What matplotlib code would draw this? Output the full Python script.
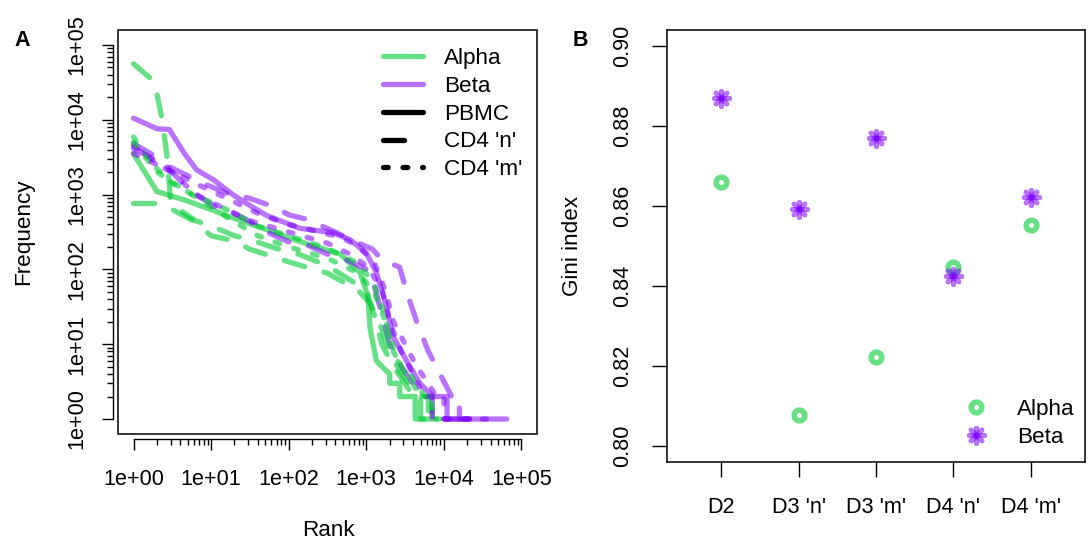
import matplotlib
matplotlib.use("Agg")
import matplotlib.pyplot as plt
from matplotlib.lines import Line2D
from matplotlib.markers import MarkerStyle
from matplotlib.patches import Rectangle
from matplotlib.legend_handler import HandlerTuple
from matplotlib.ticker import FixedLocator, FixedFormatter, NullFormatter

plt.rcParams['font.family'] = ['Liberation Sans', 'DejaVu Sans']

W, H = 1089, 543
FS = 16.2
FS_TICK = 15.6
GREEN = (0.0, 0.8, 0.2, 0.6)
PURPLE = (0.5, 0.0, 1.0, 0.55)
LW = 3.8
SOLID = '-'
DASHED = (0, (4.0, 3.8))
DOTTED = (0, (0.9, 2.8))

# --- panel A: rank / frequency curves ---
alpha_pbmc_rank = [1, 2, 4.5, 10, 20, 52, 140, 460, 830, 1050, 1120, 1350, 1600, 2000, 2000, 2700, 2700, 4270, 4270, 8000]
alpha_pbmc_freq = [3500, 1100, 850, 630, 480, 340, 235, 160, 91, 44, 16, 6, 5, 4, 3, 3, 2, 2, 1, 1]

beta_pbmc_rank = [1, 2, 2.9, 4.4, 6.5, 10.7, 19, 32, 52, 138, 372, 617, 1000, 1350, 1820, 2190, 3300, 4900, 7240, 11000, 11000, 64600]
beta_pbmc_freq = [10500, 7600, 7400, 3700, 2140, 1580, 1000, 710, 525, 355, 310, 250, 166, 91, 32, 13, 6, 3, 2, 2, 1, 1]

alpha_d3n_rank = [1, 1.86, 2.34, 2.75, 3.0, 3.55, 6.3, 10, 20, 35.5, 69, 138, 316, 760, 1050, 1260, 1585, 2240, 3160, 3980, 5010, 5010, 8900]
alpha_d3n_freq = [56000, 32400, 10000, 2820, 794, 676, 447, 380, 282, 240, 191, 158, 112, 63, 45, 25, 10, 5, 3, 2, 2, 1, 1]

alpha_d4n_rank = [1, 1.9, 3.16, 6.3, 10, 20, 31.6, 100, 316, 794, 1122, 1585, 2000, 2820, 3550, 5010, 6310, 6310, 8900]
alpha_d4n_freq = [760, 760, 631, 430, 282, 240, 186, 126, 89, 52, 35, 16, 8, 4, 3, 2, 2, 1, 1]

alpha_d3m_rank = [1, 1.26, 2, 3.16, 6.3, 10, 20, 40, 100, 316, 794, 1259, 1585, 2000, 2512, 3548, 4467, 5623, 7000, 7000, 8900]
alpha_d3m_freq = [5900, 4000, 2240, 1413, 955, 794, 562, 380, 282, 191, 120, 63, 32, 13, 6, 4, 3, 2, 2, 1, 1]

alpha_d4m_rank = [1, 2, 4, 7.9, 15.8, 39.8, 100, 316, 794, 1259, 1778, 2239, 2818, 3981, 5012, 7079, 7079, 8300]
alpha_d4m_freq = [5000, 2000, 1259, 794, 501, 282, 200, 141, 89, 50, 20, 8, 5, 3, 2, 2, 1, 1]

beta_d3n_rank = [1, 2, 2.75, 4.27, 7.08, 11.2, 19.1, 31.6, 52.5, 100, 170, 372, 501, 1000, 1259, 1585, 2000, 2818, 3981, 5623, 7079, 7079, 15849]
beta_d3n_freq = [4800, 3160, 2290, 1445, 933, 692, 575, 437, 316, 234, 214, 148, 141, 100, 63, 25, 10, 5, 3, 2, 2, 1, 1]

beta_d4n_rank = [1, 2, 4, 7.9, 15.8, 31.6, 63, 100, 170, 398, 759, 1202, 1585, 2692, 3311, 4467, 6310, 8913, 12589, 15849, 15849, 22387]
beta_d4n_freq = [4170, 2820, 2000, 1413, 1047, 891, 692, 537, 468, 316, 229, 186, 135, 107, 50, 20, 8, 4, 2, 2, 1, 1]

beta_d3m_rank = [1, 1.58, 2.5, 5, 10, 20, 39.8, 100, 251, 501, 794, 1259, 1778, 2239, 3162, 4467, 6310, 7943, 10000, 10000, 35481]
beta_d3m_freq = [4470, 3160, 2240, 1585, 1122, 794, 562, 398, 316, 263, 200, 126, 50, 20, 10, 5, 3, 2, 2, 1, 1]

beta_d4m_rank = [1, 2, 3.16, 6.3, 12.6, 31.6, 100, 316, 631, 1000, 1585, 1995, 2818, 3981, 5623, 7079, 7079, 25119]
beta_d4m_freq = [3550, 2512, 1995, 1000, 708, 447, 316, 224, 158, 112, 56, 20, 8, 4, 2, 2, 1, 1]

rank_ticks = [1, 10, 100, 1000, 10000, 100000]
rank_tick_labels = ['1e+00', '1e+01', '1e+02', '1e+03', '1e+04', '1e+05']

# --- panel B: Gini index per sample ---
samples = ["D2", "D3 'n'", "D3 'm'", "D4 'n'", "D4 'm'"]
gini_alpha = [0.8660, 0.8077, 0.8222, 0.8448, 0.8552]
gini_beta = [0.8869, 0.8593, 0.8771, 0.8425, 0.8623]
gini_ticks = [0.80, 0.82, 0.84, 0.86, 0.88, 0.90]


def plot_rank_frequency(fig):
    ax = fig.add_axes([118 / W, 1 - 434 / H, 419 / W, 404 / H])
    ax.set_xscale('log')
    ax.set_yscale('log')

    curves = [
        (alpha_pbmc_rank, alpha_pbmc_freq, GREEN, SOLID),
        (beta_pbmc_rank, beta_pbmc_freq, PURPLE, SOLID),
        (alpha_d3n_rank, alpha_d3n_freq, GREEN, DASHED),
        (beta_d3n_rank, beta_d3n_freq, PURPLE, DASHED),
        (alpha_d3m_rank, alpha_d3m_freq, GREEN, DOTTED),
        (beta_d3m_rank, beta_d3m_freq, PURPLE, DOTTED),
        (alpha_d4n_rank, alpha_d4n_freq, GREEN, DASHED),
        (beta_d4n_rank, beta_d4n_freq, PURPLE, DASHED),
        (alpha_d4m_rank, alpha_d4m_freq, GREEN, DOTTED),
        (beta_d4m_rank, beta_d4m_freq, PURPLE, DOTTED),
    ]
    for rank, freq, color, ls in curves:
        ax.plot(rank, freq, color=color, ls=ls, lw=LW,
                solid_capstyle='round', dash_capstyle='round', solid_joinstyle='round')

    lim = (10 ** -0.2, 10 ** 5.2)
    ax.set_xlim(lim)
    ax.set_ylim(lim)

    minor = [m * 10 ** k for k in range(5) for m in range(2, 10)]
    for axis in (ax.xaxis, ax.yaxis):
        axis.set_major_locator(FixedLocator(rank_ticks))
        axis.set_major_formatter(FixedFormatter(rank_tick_labels))
        axis.set_minor_locator(FixedLocator(minor))
        axis.set_minor_formatter(NullFormatter())

    for s in ('top', 'right'):
        ax.spines[s].set_visible(False)
    for s in ('left', 'bottom'):
        ax.spines[s].set_position(('outward', 3.5))
        ax.spines[s].set_bounds(1, 1e5)
        ax.spines[s].set_linewidth(1)
    ax.add_patch(Rectangle((0, 0), 1, 1, transform=ax.transAxes, fill=False,
                           ec='black', lw=1.1, clip_on=False))

    ax.tick_params(which='major', length=8, width=1, labelsize=FS_TICK)
    ax.tick_params(which='minor', length=4.5, width=1)
    ax.tick_params(axis='x', which='major', pad=13.5)
    ax.tick_params(axis='y', which='major', pad=10.5, labelrotation=90)
    for t in ax.get_yticklabels():
        t.set_va('center')

    handles = [
        Line2D([], [], color=GREEN, lw=LW, solid_capstyle='round'),
        Line2D([], [], color=PURPLE, lw=LW, solid_capstyle='round'),
        Line2D([], [], color='black', lw=LW, ls=SOLID, solid_capstyle='round'),
        Line2D([], [], color='black', lw=LW, ls=DASHED, dash_capstyle='round'),
        Line2D([], [], color='black', lw=LW, ls=DOTTED, dash_capstyle='round'),
    ]
    labels = ['Alpha', 'Beta', 'PBMC', "CD4 'n'", "CD4 'm'"]
    ax.legend(handles, labels, loc='upper left', bbox_to_anchor=(0.6325, 0.955),
              frameon=False, fontsize=FS, handlelength=1.78, handletextpad=0.95,
              labelspacing=0.3, borderpad=0, borderaxespad=0)


def star_marker(angle):
    # one spoke of R's pch 8; four of them, drawn one on top of the other
    return MarkerStyle((2, 2, angle), joinstyle='round', capstyle='round')


def plot_gini(fig):
    ax = fig.add_axes([667 / W, 1 - 462 / H, 418 / W, 432 / H])
    x = list(range(1, len(samples) + 1))

    ax.plot(x, gini_alpha, ls='none', marker='o', ms=7.6, mew=4,
            mfc='none', mec=GREEN)
    for ang in (0, 45, 90, 135):
        ax.plot(x, gini_beta, ls='none', marker=star_marker(ang), ms=10.8, mew=3.6,
                color=PURPLE, mec=PURPLE)

    ax.set_xlim(0.3, 5.7)
    ax.set_ylim(0.796, 0.904)
    ax.set_xticks(x)
    ax.set_xticklabels(samples)
    ax.set_yticks(gini_ticks)
    ax.set_yticklabels(['%.2f' % v for v in gini_ticks])
    for s in ax.spines.values():
        s.set_linewidth(1.1)

    ax.tick_params(length=10.5, width=1, labelsize=FS_TICK)
    ax.tick_params(axis='x', pad=14.5)
    ax.tick_params(axis='y', pad=14, labelrotation=90)
    for t in ax.get_yticklabels():
        t.set_va('center')

    ring_key = Line2D([], [], ls='none', marker='o', ms=7.6, mew=4,
                      mfc='none', mec=GREEN)
    star_keys = tuple(
        Line2D([], [], ls='none', marker=star_marker(ang), ms=10.8, mew=3.6, mec=PURPLE)
        for ang in (0, 45, 90, 135)
    )
    ax.legend([ring_key, star_keys], ['Alpha', 'Beta'],
              handler_map={tuple: HandlerTuple(ndivide=1, pad=0)},
              loc='upper left', bbox_to_anchor=(0.713, 0.146),
              frameon=False, fontsize=FS, handlelength=1.0, handletextpad=1.3,
              labelspacing=0.3, borderpad=0, borderaxespad=0)


def main():
    fig = plt.figure(figsize=(W / 100, H / 100), dpi=100)

    plot_rank_frequency(fig)
    plot_gini(fig)

    fig.text(22 / W, 1 - 40 / H, 'A', fontsize=15.5, fontweight='bold', ha='center', va='center')
    fig.text(580 / W, 1 - 40 / H, 'B', fontsize=15.5, fontweight='bold', ha='center', va='center')
    fig.text(24 / W, 1 - 232 / H, 'Frequency', fontsize=FS, rotation=90, ha='center', va='center')
    fig.text(328 / W, 1 - 530 / H, 'Rank', fontsize=FS, ha='center', va='center')
    fig.text(572 / W, 1 - 246 / H, 'Gini index', fontsize=FS, rotation=90, ha='center', va='center')

    fig.savefig('out.png', dpi=100)


if __name__ == '__main__':
    main()
